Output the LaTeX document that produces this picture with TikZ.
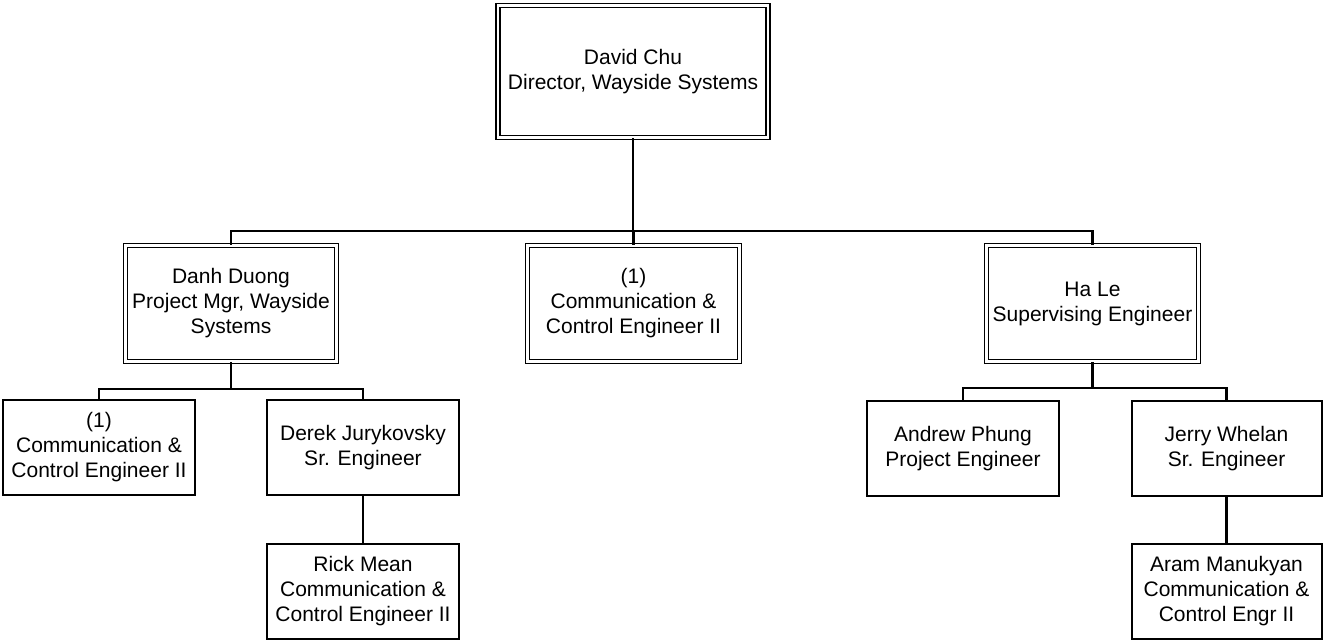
\documentclass[tikz,border=0pt]{standalone}
\usepackage{fontspec}
\setmainfont{Liberation Sans}
\begin{document}
\begin{tikzpicture}[x=1pt,y=-1pt,
  every node/.style={font=\fontsize{21}{25}\selectfont, align=center, inner sep=0pt},
  dbox/.style={draw, double, double distance=2.6pt, line width=1.6pt, minimum height=116pt},
  sbox/.style={draw, line width=2pt, minimum width=192pt, minimum height=95pt},
  conn/.style={line width=2.2pt}]
\useasboundingbox (0,0) rectangle (1323,640);
\node[dbox, minimum width=270pt, minimum height=132pt] (chu) at (633,71.5) {David Chu\\Director, Wayside Systems};
\node[dbox, minimum width=211pt] (danh) at (231,303.5) {Danh Duong\\Project Mgr, Wayside\\Systems};
\node[dbox, minimum width=212pt] (mid) at (633.5,303.5) {(1)\\Communication \&\\Control Engineer II};
\node[dbox, minimum width=212pt] (hale) at (1092.5,303.5) {Ha Le\\Supervising Engineer};
\node[sbox] (comm) at (99,447.5) {(1)\\Communication \&\\Control Engineer II};
\node[sbox] (derek) at (363,447.5) {Derek Jurykovsky\\Sr. Engineer};
\node[sbox] (rick) at (363,591.5) {Rick Mean\\Communication \&\\Control Engineer II};
\node[sbox] (andrew) at (963,448.5) {Andrew Phung\\Project Engineer};
\node[sbox, minimum width=190pt] (jerry) at (1226.5,448.5) {Jerry Whelan\\Sr. Engineer};
\node[sbox, minimum width=190pt] (aram) at (1226.5,591.5) {Aram Manukyan\\Communication \&\\Control Engr II};
\coordinate (b1) at (0,231);
\coordinate (b2) at (0,389);
\coordinate (b3) at (0,388);
\draw[conn] (chu.south) -- (chu.south |- b1);
\draw[conn] (danh.north) -- (danh.north |- b1) -- (hale.north |- b1) -- (hale.north);
\draw[conn] (mid.north) -- (mid.north |- b1);
\draw[conn] (danh.south) -- (danh.south |- b2);
\draw[conn] (comm.north) -- (comm.north |- b2) -- (derek.north |- b2) -- (derek.north);
\draw[conn] (derek.south) -- (rick.north);
\draw[conn] (hale.south) -- (hale.south |- b3);
\draw[conn] (andrew.north) -- (andrew.north |- b3) -- (jerry.north |- b3) -- (jerry.north);
\draw[conn] (jerry.south) -- (aram.north);
\end{tikzpicture}
\end{document}
